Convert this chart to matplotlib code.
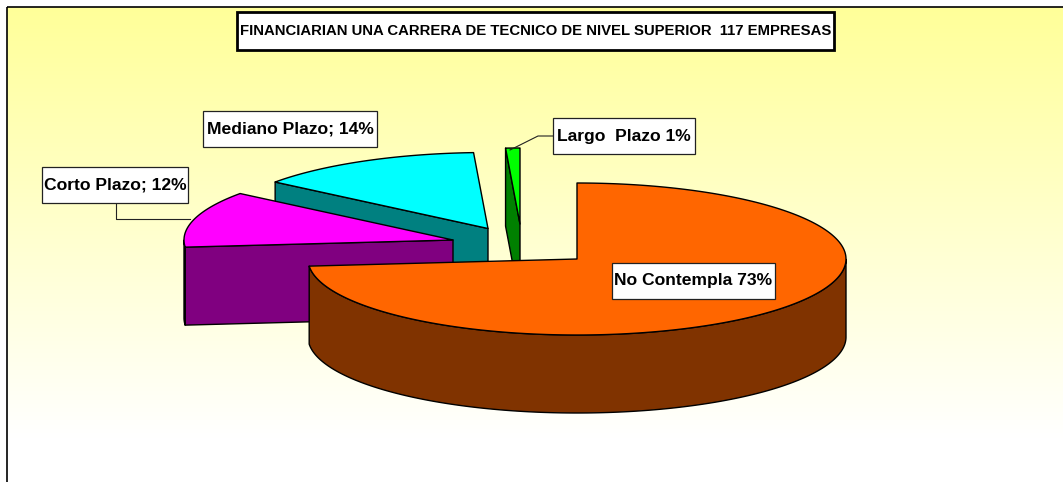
import numpy as np
import matplotlib
matplotlib.use("Agg")
import matplotlib.pyplot as plt
from matplotlib.patches import Polygon, Rectangle

plt.rcParams['font.family'] = ['Liberation Sans', 'DejaVu Sans']

# companies out of 117, these give the printed percentages
categories = ['No Contempla', 'Corto Plazo', 'Mediano Plazo', 'Largo Plazo']
companies = [86, 14, 16, 1]
labels = ['No Contempla 73%', 'Corto Plazo; 12%', 'Mediano Plazo; 14%', 'Largo  Plazo 1%']
title = 'FINANCIARIAN UNA CARRERA DE TECNICO DE NIVEL SUPERIOR  117 EMPRESAS'

top_colors = ['#FF6600', '#FF00FF', '#00FFFF', '#00FF00']
side_colors = ['#803300', '#800080', '#008080', '#008000']
tips = [(577, 259), (453, 240), (488, 228.5), (520, 224)]
# label boxes, x0, y0, x1, y1 in pixels
boxes = [(612, 263, 775, 299), (42, 167, 188, 203), (203, 111, 377, 147), (553, 118, 695, 154)]

RX, RY, DEPTH = 269, 76, 78
W, H = 1063, 482
LW = 1.0


def pt(tip, deg):
    a = np.radians(deg)
    return np.column_stack([tip[0] + RX * np.cos(a), tip[1] - RY * np.sin(a)])


def poly(ax, xy, color, z):
    ax.add_patch(Polygon(xy, closed=True, fc=color, ec='black', lw=LW, zorder=z, joinstyle='round'))


def draw_slice(ax, tip, start, end, top, side, z):
    # start/end in degrees, going clockwise from start
    down = np.array([0, DEPTH])
    tip_xy = np.array([tip], dtype=float)
    # only the cut on the left side is turned to the viewer
    if np.cos(np.radians(start)) < 0:
        edge = pt(tip, start)
        poly(ax, np.vstack([tip_xy, edge, edge + down, tip_xy + down]), side, z)
    # rim, the part of the arc on the front half
    a = np.linspace(start, end, 300)
    front = a[np.sin(np.radians(a)) <= 0]
    if len(front) > 1:
        rim = pt(tip, front)
        poly(ax, np.vstack([rim, rim[::-1] + down]), side, z)
    poly(ax, np.vstack([tip_xy, pt(tip, a)]), top, z + 0.5)


fig = plt.figure(figsize=(W / 100, H / 100), dpi=100)
ax = fig.add_axes([0, 0, 1, 1])
ax.axis('off')

# yellow to white background
grad = np.linspace(0, 1, 256).reshape(-1, 1)
grad = np.clip(grad * 1.12, 0, 1)
rgb = np.dstack([np.ones_like(grad), np.ones_like(grad), 0.6 + 0.4 * grad])
ax.imshow(rgb, extent=[7, W, 490, 7], aspect='auto', zorder=0)
ax.set_xlim(0, W)
ax.set_ylim(H, 0)
ax.add_patch(Rectangle((7, 7), W, 483, fc='none', ec='black', lw=1.2, zorder=1))

# slices run clockwise from 12 o'clock, back ones drawn first
sweeps = 360 * np.array(companies) / sum(companies)
starts = 90 - np.concatenate([[0], np.cumsum(sweeps)[:-1]])
for i in [3, 2, 1, 0]:
    draw_slice(ax, tips[i], starts[i], starts[i] - sweeps[i], top_colors[i], side_colors[i], 3 + (3 - i))

# leader lines
ax.plot([115.5, 115.5, 190], [203, 219, 219], color='#222222', lw=0.8, zorder=2)
ax.plot([510, 538, 553], [150, 136, 136], color='#222222', lw=0.8, zorder=10)

for (x0, y0, x1, y1), lab in zip(boxes, labels):
    ax.add_patch(Rectangle((x0, y0), x1 - x0, y1 - y0, fc='white', ec='#222222', lw=0.9, zorder=11))
    ax.text((x0 + x1) / 2, (y0 + y1) / 2, lab, ha='center', va='center', fontsize=12.6,
            fontweight='bold', zorder=12)

ax.add_patch(Rectangle((237, 12), 597, 38, fc='white', ec='black', lw=2, zorder=11))
ax.text(535.5, 31, title, ha='center', va='center', fontsize=10.7, fontweight='bold', zorder=12)

fig.savefig('out.png', dpi=100)
